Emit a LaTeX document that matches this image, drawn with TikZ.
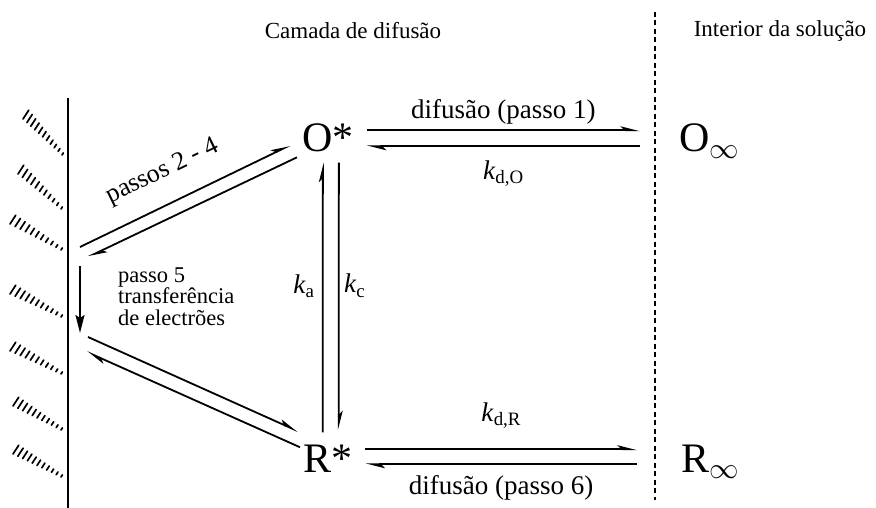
\documentclass[tikz,border=0pt]{standalone}
\usepackage{fix-cm}
\usepackage{fontspec}
\setmainfont{Liberation Serif}
\usetikzlibrary{arrows.meta,positioning,calc}
\tikzset{
    species/.style={inner sep=0pt, font=\fontsize{42}{46}\selectfont},
    ratelabel/.style={font=\fontsize{27}{30}\selectfont},
    regionlabel/.style={font=\fontsize{23}{26}\selectfont},
    steplabel/.style={font=\fontsize{22.5}{21.5}\selectfont, align=left, inner sep=0pt},
    harp/.style={-{Stealth[harpoon,length=16pt,width=8pt,inset=4pt]}, line width=1.8pt},
    transfer/.style={-{Stealth[length=18pt,width=9pt,inset=3pt]}, line width=1.8pt},
    electrode/.style={line width=1.8pt},
    boundary/.style={line width=1.3pt, dash pattern=on 5pt off 3.5pt},
    hatchmark/.style={line width=1.7pt, line cap=round}
}
\begin{document}
\begin{tikzpicture}[x=1pt,y=-1pt]
\useasboundingbox (0,0) rectangle (876,508);

% regions
\node[regionlabel] (layer) at (353,31) {Camada de difusão};
\node[regionlabel] (bulk) at (780,31) {Interior da solução};
\coordinate (bndtop) at (655,12);
\coordinate (bndbot) at (655,500);
\draw[boundary] (bndtop) -- (bndbot);

% electrode
\coordinate (eltop) at (68,98);
\coordinate (elbot) at (68,508);
\draw[electrode] (eltop) -- (elbot);
\foreach \xa/\ya/\xb/\yb in {23/119/62/155, 18/174/61/209, 10/224/61/250, 10/294/61/317,
                             10/351/61/374, 13/406/61/430, 13/454/61/477}
  \foreach \i in {0,...,10}
    \draw[hatchmark] ($(\xa,\ya)!\i/10!(\xb,\yb)$) -- ++({0.55*(10.5-0.8*\i)},{-0.84*(10.5-0.8*\i)});

% species
\node[species, anchor=base west] (ostar) at (302,152) {O*};
\node[species, anchor=base west] (rstar) at (303,472) {R*};
\node[species, anchor=base west] (oinf) at (679,152) {O$_\infty$};
\node[species, anchor=base west] (rinf) at (681,472) {R$_\infty$};

% diffusion of O
\draw[harp] ([xshift=13pt,yshift=8pt]ostar.east) -- ($(ostar.east -| bndtop)+(-15pt,8pt)$)
    node[ratelabel, midway, above=2pt] (difo) {difusão (passo 1)};
\draw[harp] ($(ostar.east -| bndtop)+(-15pt,-8pt)$) -- ([xshift=13pt,yshift=-8pt]ostar.east)
    node[ratelabel, midway, below=10pt] (kdo) {\textit{k}\textsubscript{d,O}};

% diffusion of R
\draw[harp] ([xshift=13pt,yshift=9pt]rstar.east) -- ($(rstar.east -| bndtop)+(-18pt,9pt)$)
    node[ratelabel, midway, above=17pt] (kdr) {\textit{k}\textsubscript{d,R}};
\draw[harp] ($(rstar.east -| bndtop)+(-18pt,-6pt)$) -- ([xshift=13pt,yshift=-6pt]rstar.east)
    node[ratelabel, midway, below=7pt] (difr) {difusão (passo 6)};

% O* <-> R*
\draw[harp] ([xshift=-5pt,yshift=12pt]rstar.north) -- ([xshift=-5pt,yshift=-10pt]ostar.south)
    node[ratelabel, pos=0.54, left=4pt] (ka) {\textit{k}\textsubscript{a}};
\draw[harp] ([xshift=11pt,yshift=-10pt]ostar.south) -- ([xshift=11pt,yshift=14pt]rstar.north)
    node[ratelabel, pos=0.46, right=1pt] (kc) {\textit{k}\textsubscript{c}};

% surface steps
\coordinate (ads1) at (80,247);
\coordinate (ads2) at (88,257);
\coordinate (et1) at (80,266);
\coordinate (et2) at (80,333);
\coordinate (des1) at (88,337);
\coordinate (des2) at (87,352);
\draw[harp] (ads1) -- ([xshift=-12pt,yshift=-7pt]ostar.west)
    node[ratelabel, font=\fontsize{26}{30}\selectfont, pos=0.46, above=16pt, sloped] (ads) {passos 2 - 4};
\draw[harp] ([xshift=-5pt,yshift=-19pt]ostar.west) -- (ads2);
\draw[transfer] (et1) -- (et2);
\node[steplabel, anchor=base west] (etnote) at (118,325) {passo 5\\transferência\\de electrões};
\draw[harp] (des1) -- ([xshift=-5pt,yshift=27pt]rstar.west);
\draw[harp] ([xshift=-3pt,yshift=11pt]rstar.west) -- (des2);
\end{tikzpicture}
\end{document}
